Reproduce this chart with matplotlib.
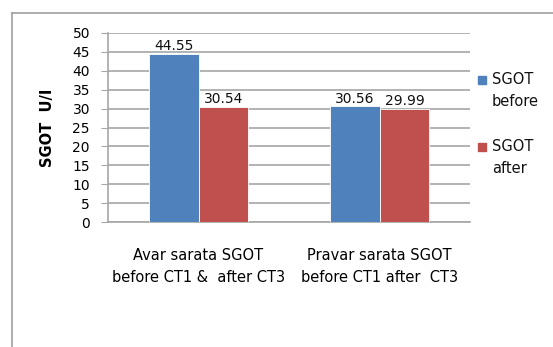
import matplotlib.pyplot as plt
from matplotlib.patches import Rectangle
import numpy as np

categories = ["Avar sarata SGOT\nbefore CT1 &  after CT3", "Pravar sarata SGOT\nbefore CT1 after  CT3"]
series_names = ["SGOT\nbefore", "SGOT\nafter"]
before_vals = [44.55, 30.56]
after_vals = [30.54, 29.99]
yticks = list(range(0, 55, 5))

blue = "#4F81BD"
red = "#C0504D"
grid_col = "#A6A6A6"

fig = plt.figure(figsize=(5.53, 3.47), dpi=100)
W, H = 553, 347

# outer chart border (only top and left visible)
fig.add_artist(plt.Line2D([12 / W, 12 / W], [0, 1 - 13 / H], color="#A0A0A0", lw=1.2))
fig.add_artist(plt.Line2D([12 / W, 1], [1 - 13 / H, 1 - 13 / H], color="#A0A0A0", lw=1.2))

ax = fig.add_axes([108 / W, 1 - 222 / H, (470 - 108) / W, (222 - 33) / H])

x = np.arange(len(categories))
bw = 0.276
b1 = ax.bar(x - bw / 2, before_vals, bw, color=blue, edgecolor="white", linewidth=0.6, zorder=3)
b2 = ax.bar(x + bw / 2, after_vals, bw, color=red, edgecolor="white", linewidth=0.6, zorder=3)

for bars, vals in [(b1, before_vals), (b2, after_vals)]:
    for rect, v in zip(bars, vals):
        ax.text(rect.get_x() + rect.get_width() / 2, v + 0.2, f"{v:.2f}",
                ha="center", va="bottom", fontsize=10, color="#111111")

ax.set_xlim(-0.5, 1.5)
ax.set_ylim(0, 50)
ax.set_yticks(yticks)
ax.set_yticklabels([str(t) for t in yticks], fontsize=10)
ax.yaxis.grid(True, color=grid_col, lw=1.2, zorder=0)
ax.set_axisbelow(True)

ax.set_xticks(x)
ax.set_xticklabels(categories, fontsize=10.5, linespacing=1.62)
ax.tick_params(axis="x", length=0, pad=18.5)
ax.tick_params(axis="y", length=5, color=grid_col, pad=8)

for s in ["top", "right"]:
    ax.spines[s].set_visible(False)
ax.spines["left"].set_color(grid_col)
ax.spines["bottom"].set_color(grid_col)
ax.spines["left"].set_linewidth(1.2)
ax.spines["bottom"].set_linewidth(1.2)

ax.set_ylabel("SGOT  U/I", fontsize=10.5, fontweight="bold")
ax.yaxis.set_label_coords(-0.146, 0.5)

# legend drawn by hand: swatch next to the first line of each label
for name, col, ytop in [(series_names[0], blue, 80), (series_names[1], red, 147)]:
    fig.patches.append(Rectangle((478 / W, 1 - (ytop + 4) / H), 8 / W, 8 / H,
                                 transform=fig.transFigure, color=col, figure=fig))
    fig.text(492 / W, 1 - (ytop - 8) / H, name, fontsize=10.5, va="top", ha="left",
             linespacing=1.55, color="#111111")

fig.savefig("out.png", dpi=100)
